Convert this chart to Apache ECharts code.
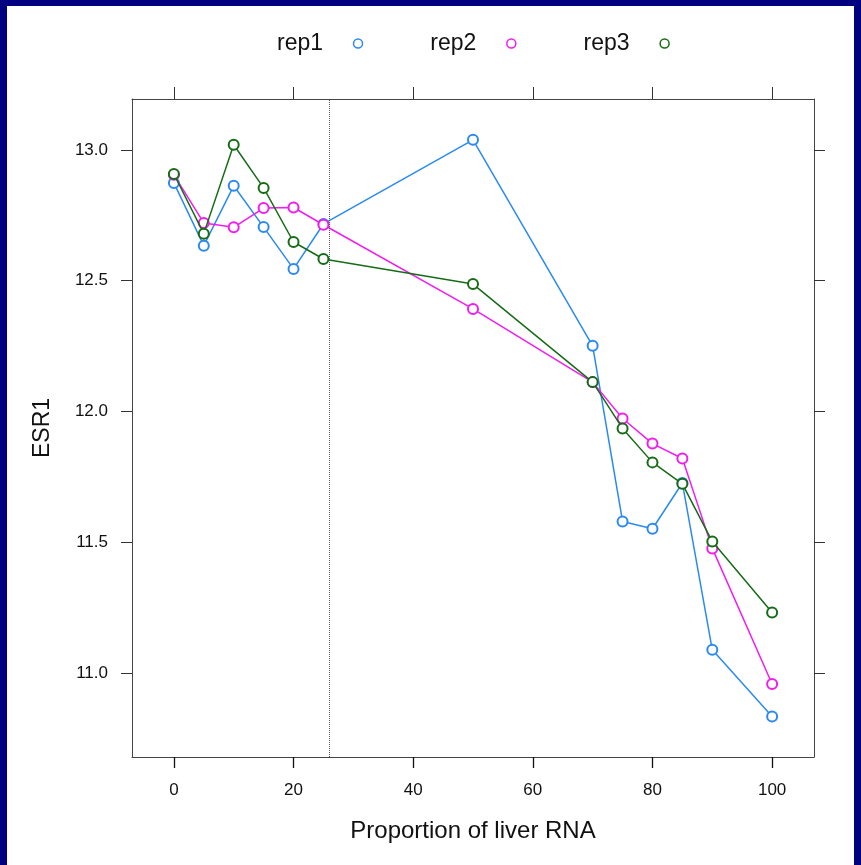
<!DOCTYPE html>
<html>
<head>
<meta charset="utf-8">
<title>ESR1 vs proportion of liver RNA</title>
<script src="https://cdn.jsdelivr.net/npm/echarts@6/dist/echarts.min.js"></script>
<style>
  html, body { margin: 0; padding: 0; background: #fff; }
  #chart { width: 861px; height: 865px; }
</style>
</head>
<body>
<div id="chart"></div>
<script>
// Proportion of liver RNA in each mixture (x positions)
const proportions = [0, 5, 10, 15, 20, 25, 50, 70, 75, 80, 85, 90, 100];

// ESR1 expression for the three replicates
const rep1 = [12.874, 12.634, 12.863, 12.705, 12.545, 12.717, 13.039, 12.251, 11.579, 11.551, 11.726, 11.088, 10.833];
const rep2 = [12.905, 12.721, 12.704, 12.778, 12.780, 12.714, 12.392, 12.112, 11.973, 11.877, 11.820, 11.476, 10.957];
const rep3 = [12.908, 12.680, 13.020, 12.855, 12.648, 12.583, 12.487, 12.112, 11.935, 11.805, 11.723, 11.502, 11.231];

// Tick positions
const xTicks = [0, 20, 40, 60, 80, 100];
const yTicks = [11.0, 11.5, 12.0, 12.5, 13.0];

// Reference line position
const cutoff = 26;

const seriesNames = ['rep1', 'rep2', 'rep3'];
const seriesValues = [rep1, rep2, rep3];
const colors = ['#2a8af2', '#f21cf0', '#156c15'];

const FONT = '"Liberation Sans", Arial, Helvetica, sans-serif';
const AXIS_COLOR = '#333';

const chart = echarts.init(document.getElementById('chart'), null, { renderer: 'canvas' });

const X_MIN = -7, X_MAX = 107;
const Y_MIN = 10.678, Y_MAX = 13.195;

const series = seriesNames.map((name, k) => ({
  name: name,
  type: 'line',
  xAxisIndex: 0,
  yAxisIndex: 0,
  data: proportions.map((x, i) => [x, seriesValues[k][i]]),
  symbol: 'emptyCircle',
  symbolSize: 10,
  lineStyle: { color: colors[k], width: 1.5 },
  itemStyle: { color: colors[k], borderColor: colors[k], borderWidth: 1.5 },
  z: 3 + k,
  emphasis: { disabled: true },
}));

// dotted vertical reference line
series[0].markLine = {
  silent: true,
  symbol: ['none', 'none'],
  label: { show: false },
  lineStyle: { type: 'dotted', color: '#555', width: 1 },
  data: [{ xAxis: cutoff }],
};

const tickStyle = { color: AXIS_COLOR, width: 1 };
const frameLine = { show: true, onZero: false, lineStyle: { color: '#444', width: 1 } };

chart.setOption({
  animation: false,
  backgroundColor: '#ffffff',
  textStyle: { fontFamily: FONT },
  graphic: [
    { type: 'rect', shape: { x: 0, y: 0, width: 861, height: 6 }, style: { fill: '#000080' }, silent: true },
    { type: 'rect', shape: { x: 0, y: 0, width: 7, height: 865 }, style: { fill: '#000080' }, silent: true },
    { type: 'rect', shape: { x: 854, y: 0, width: 7, height: 865 }, style: { fill: '#000080' }, silent: true },
  ],
  legend: {
    left: 272,
    top: 27,
    align: 'right',
    orient: 'horizontal',
    itemWidth: 60,
    itemHeight: 9,
    itemGap: 67,
    selectedMode: false,
    textStyle: { fontSize: 23, color: '#111', fontFamily: FONT },
    data: seriesNames.map((n, k) => ({
      name: n,
      icon: 'circle',
      itemStyle: { color: '#ffffff', borderColor: colors[k], borderWidth: 1.5 },
    })),
  },
  grid: {
    left: 132,
    top: 99,
    right: 47,
    bottom: 108,
    show: false,
    containLabel: false,
  },
  // Axis lines on all four sides form the frame
  xAxis: [
    {
      type: 'value',
      position: 'bottom',
      min: X_MIN,
      max: X_MAX,
      name: 'Proportion of liver RNA',
      nameLocation: 'middle',
      nameGap: 62,
      nameTextStyle: { fontSize: 24, color: '#111', fontFamily: FONT },
      axisLine: frameLine,
      splitLine: { show: false },
      axisTick: { show: true, inside: false, length: 11, customValues: xTicks, lineStyle: { color: '#111', width: 1.3 } },
      axisLabel: {
        show: true, margin: 25, fontSize: 17, color: '#111', fontFamily: FONT,
        customValues: xTicks,
      },
    },
    {
      type: 'value',
      position: 'top',
      min: X_MIN,
      max: X_MAX,
      axisLine: frameLine,
      splitLine: { show: false },
      axisTick: { show: true, inside: false, length: 12, customValues: xTicks, lineStyle: tickStyle },
      axisLabel: { show: false },
    },
  ],
  yAxis: [
    {
      type: 'value',
      position: 'left',
      min: Y_MIN,
      max: Y_MAX,
      name: 'ESR1',
      nameLocation: 'middle',
      nameGap: 78,
      nameTextStyle: { fontSize: 23, color: '#111', fontFamily: FONT },
      axisLine: frameLine,
      splitLine: { show: false },
      axisTick: { show: true, inside: false, length: 11, customValues: yTicks, lineStyle: tickStyle },
      axisLabel: {
        show: true, margin: 24, fontSize: 17, color: '#111', fontFamily: FONT,
        customValues: yTicks,
        formatter: v => Number(v).toFixed(1),
      },
    },
    {
      type: 'value',
      position: 'right',
      min: Y_MIN,
      max: Y_MAX,
      axisLine: frameLine,
      splitLine: { show: false },
      axisTick: { show: true, inside: false, length: 11, customValues: yTicks, lineStyle: tickStyle },
      axisLabel: { show: false },
    },
  ],
  series: series,
});
</script>
</body>
</html>
